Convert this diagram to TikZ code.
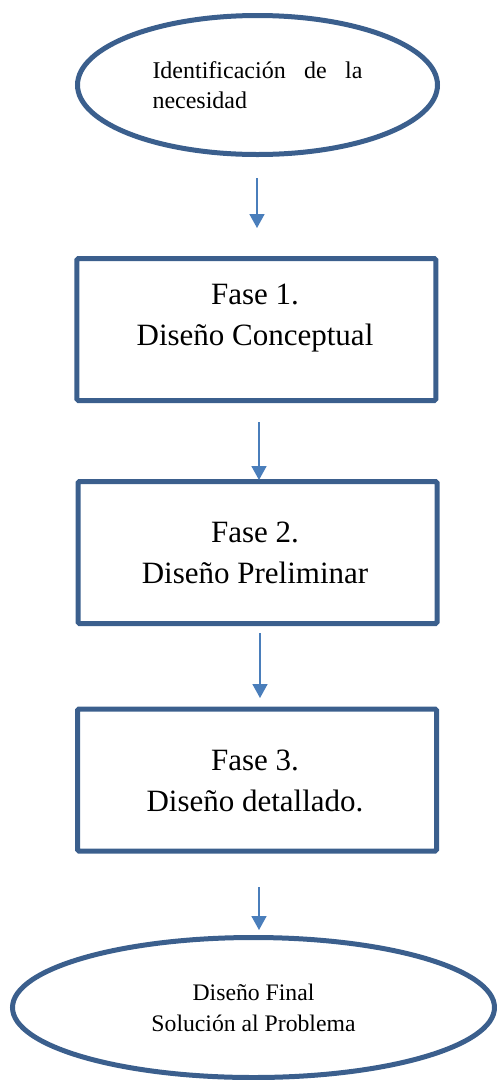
\documentclass[tikz,border=0pt]{standalone}
\usepackage{fontspec}
\setmainfont{Liberation Serif}
\usetikzlibrary{arrows.meta,shapes.geometric}
\definecolor{bord}{HTML}{3B5F8D}
\definecolor{arr}{HTML}{4A7EBB}
\begin{document}
\begin{tikzpicture}[x=1pt,y=-1pt,
  ell/.style={ellipse, draw=bord, line width=5pt, inner sep=0pt, align=center},
  phasebox/.style={rectangle, draw=bord, line width=5pt, minimum width=359pt, minimum height=142pt, rounded corners=1.5pt, inner sep=0pt},
  phasetext/.style={align=center, inner sep=0pt, font=\fontsize{31}{41}\selectfont},
  conn/.style={draw=arr, line width=1.7pt, -{Triangle[length=14pt,width=15pt]}}]
\useasboundingbox (0,0) rectangle (497,1080);
% start ellipse
\node[ell, minimum width=360pt, minimum height=139pt, font=\fontsize{24}{30}\selectfont, align=left] (need) at (257.5,85)
  {\makebox[210pt][s]{Identificación de la}\\necesidad};
% phase boxes
\node[phasebox] (f1) at (256.3,329.5) {};
\node[phasetext] (f1t) at (255,317.6) {Fase 1.\\Diseño Conceptual};
\node[phasebox] (f2) at (257.5,552.5) {};
\node[phasetext] (f2t) at (255,552.7) {Fase 2.\\Diseño Preliminar};
\node[phasebox] (f3) at (257,780) {};
\node[phasetext] (f3t) at (255,781) {Fase 3.\\Diseño detallado.};
% final ellipse
\node[ell, minimum width=482pt, minimum height=140pt, font=\fontsize{23.7}{31}\selectfont] (final) at (253.5,1007.5)
  {Diseño Final\\Solución al Problema};
% arrows
\coordinate (a1s) at (257,178); \coordinate (a1e) at (257,228);
\coordinate (a2s) at (259,422); \coordinate (a2e) at (259,480);
\coordinate (a3s) at (260,633); \coordinate (a3e) at (260,698);
\coordinate (a4s) at (259,887); \coordinate (a4e) at (259,930);
\draw[conn] (a1s) -- (a1e);
\draw[conn] (a2s) -- (a2e);
\draw[conn] (a3s) -- (a3e);
\draw[conn] (a4s) -- (a4e);
\end{tikzpicture}
\end{document}
